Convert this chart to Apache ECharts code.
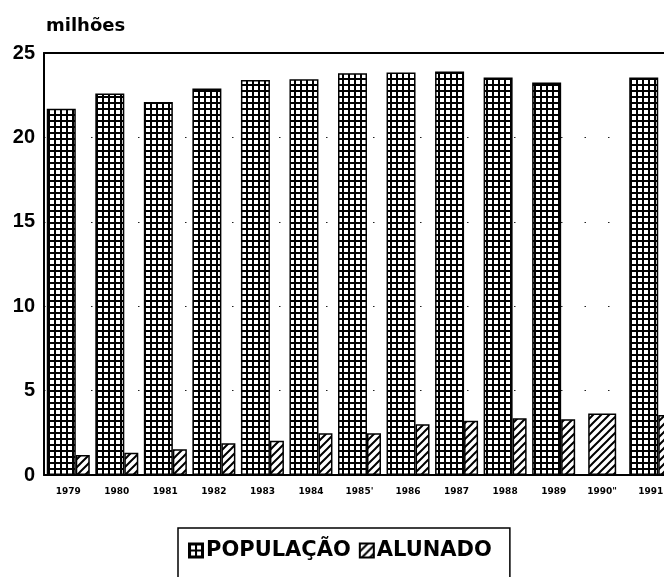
<!DOCTYPE html>
<html>
<head>
<meta charset="utf-8">
<script src="https://cdn.jsdelivr.net/npm/echarts@6/dist/echarts.min.js"></script>
<style>
  html, body { margin: 0; padding: 0; background: #fff; }
  #chart { width: 664px; height: 577px; }
</style>
</head>
<body>
<div id="chart"></div>
<script>
// anos (categorias)
var anos = ["1979", "1980", "1981", "1982", "1983", "1984", "1985'", "1986", "1987", "1988", "1989", "1990\"", "1991"];
// milhões
var populacao = [21.7, 22.6, 22.1, 22.9, 23.4, 23.45, 23.8, 23.85, 23.9, 23.55, 23.25, null, 23.55];
var alunado = [1.18, 1.32, 1.52, 1.88, 2.03, 2.47, 2.47, 3.0, 3.22, 3.36, 3.3, 3.65, 3.55];

// ano sem população: alunado desenhado sozinho, barra larga
var alunadoPar = alunado.map(function (v, i) { return populacao[i] == null ? null : v; });
var alunadoSo = alunado.map(function (v, i) { return populacao[i] == null ? v : null; });

function gridPattern() {
  var c = document.createElement("canvas");
  c.width = 6; c.height = 6;
  var ctx = c.getContext("2d");
  ctx.fillStyle = "#fff";
  ctx.fillRect(0, 0, 6, 6);
  ctx.fillStyle = "#000";
  ctx.fillRect(0, 0, 6, 2);
  ctx.fillRect(0, 0, 2, 6);
  return c;
}

function hatchPattern() {
  var c = document.createElement("canvas");
  c.width = 8; c.height = 8;
  var ctx = c.getContext("2d");
  ctx.fillStyle = "#fff";
  ctx.fillRect(0, 0, 8, 8);
  ctx.strokeStyle = "#000";
  ctx.lineWidth = 2;
  ctx.beginPath();
  ctx.moveTo(-1, 9); ctx.lineTo(9, -1);
  ctx.moveTo(-1, 1); ctx.lineTo(1, -1);
  ctx.moveTo(7, 9); ctx.lineTo(9, 7);
  ctx.stroke();
  return c;
}

var popFill = { image: gridPattern(), repeat: "repeat" };
var aluFill = { image: hatchPattern(), repeat: "repeat" };

var chart = echarts.init(document.getElementById("chart"));

var option = {
  backgroundColor: "#fff",
  animation: false,
  title: {
    text: "milhões",
    left: 41,
    top: 12,
    textStyle: { fontFamily: "DejaVu Sans", fontWeight: "bold", fontSize: 18, color: "#000" }
  },
  legend: {
    data: ["POPULAÇÃO", "ALUNADO"],
    left: 178,
    top: 528,
    orient: "horizontal",
    borderColor: "#000",
    borderWidth: 1.5,
    padding: [12, 18, 30, 10],
    itemWidth: 14,
    itemHeight: 14,
    itemGap: 8,
    icon: "rect",
    textStyle: { fontFamily: "DejaVu Sans", fontWeight: "bold", fontSize: 21, color: "#000", padding: [0, 0, 0, -2] }
  },
  grid: {
    left: 44,
    width: 631,
    top: 53,
    bottom: 102,
    containLabel: false,
    outerBoundsMode: "none"
  },
  xAxis: [{
    type: "category",
    data: anos,
    axisLine: { lineStyle: { color: "#000", width: 2 } },
    axisTick: { show: false },
    axisLabel: {
      interval: 0,
      margin: 12,
      color: "#000",
      fontFamily: "DejaVu Sans",
      fontWeight: "bold",
      fontSize: 9
    }
  }, {
    type: "category",
    data: anos,
    position: "top",
    axisLine: { show: true, lineStyle: { color: "#000", width: 2 } },
    axisTick: { show: false },
    axisLabel: { show: false }
  }],
  yAxis: {
    type: "value",
    min: 0,
    max: 25,
    interval: 5,
    axisLine: { show: true, lineStyle: { color: "#000", width: 2 } },
    axisTick: { show: false },
    axisLabel: {
      margin: 9,
      color: "#000",
      fontFamily: "Liberation Sans",
      fontWeight: "bold",
      fontSize: 20
    },
    splitLine: {
      show: true,
      lineStyle: { color: "#222", width: 1.2, type: [1.5, 22] }
    }
  },
  series: [{
    name: "POPULAÇÃO",
    type: "bar",
    data: populacao,
    barWidth: 29,
    barGap: 0,
    itemStyle: { color: popFill, borderColor: "#000", borderWidth: 1.5 }
  }, {
    name: "ALUNADO",
    type: "bar",
    data: alunadoPar,
    barWidth: 14,
    barGap: 0,
    itemStyle: { color: aluFill, borderColor: "#000", borderWidth: 1.5 }
  }, {
    name: "ALUNADO",
    type: "bar",
    xAxisIndex: 1,
    data: alunadoSo,
    barWidth: 28,
    itemStyle: { color: aluFill, borderColor: "#000", borderWidth: 1.5 }
  }]
};

chart.setOption(option);
</script>
</body>
</html>
